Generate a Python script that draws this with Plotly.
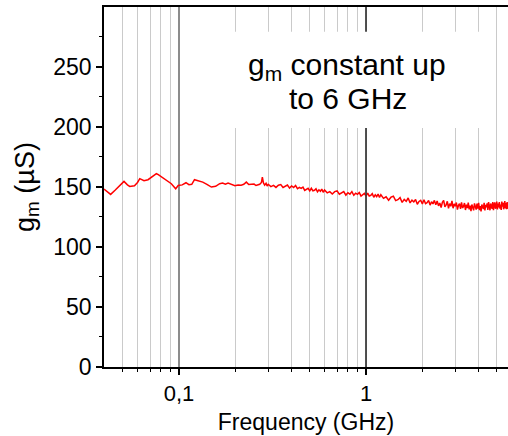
import plotly.graph_objects as go

# ---- data ----
freq_low = [0.0397, 0.0415, 0.0431, 0.0455, 0.048, 0.0508, 0.0530, 0.0545, 0.0578, 0.0600,
            0.0617, 0.0650, 0.0683, 0.0720, 0.0757, 0.0775, 0.0820, 0.0874, 0.0910, 0.0960,
            0.0990, 0.104, 0.109, 0.113, 0.117, 0.121, 0.127, 0.134, 0.141, 0.149,
            0.157, 0.165, 0.171, 0.177, 0.183, 0.191, 0.199, 0.207, 0.215, 0.222,
            0.229, 0.236, 0.244, 0.252, 0.258, 0.264, 0.270, 0.276, 0.279, 0.283,
            0.287, 0.292, 0.296]
gm_low = [148.0, 146.0, 143.6, 147.0, 151.0, 154.4, 151.5, 150.2, 150.8, 153.5,
          156.7, 155.0, 155.8, 158.5, 160.8, 160.0, 157.2, 153.8, 152.5, 148.3,
          151.0, 151.5, 153.3, 151.7, 152.0, 155.8, 155.0, 153.8, 152.0, 149.7,
          150.3, 152.5, 153.0, 152.0, 153.0, 151.8, 150.8, 151.5, 151.3, 152.0,
          153.8, 151.8, 151.7, 152.2, 151.0, 151.3, 152.0, 153.5, 158.0, 153.0,
          151.3, 152.8, 150.6]

freq_high = [0.30, 0.31, 0.32, 0.33, 0.34, 0.35, 0.36, 0.37, 0.38, 0.39,
             0.40, 0.41, 0.42, 0.43, 0.44, 0.45, 0.46, 0.47, 0.48, 0.49,
             0.50, 0.51, 0.52, 0.53, 0.54, 0.55, 0.56, 0.57, 0.58, 0.59,
             0.60, 0.62, 0.64, 0.66, 0.68, 0.70, 0.72, 0.74, 0.76, 0.78,
             0.80, 0.82, 0.84, 0.86, 0.88, 0.90, 0.92, 0.94, 0.96, 0.98,
             1.00, 1.02, 1.04, 1.06, 1.08, 1.10, 1.12, 1.14, 1.16, 1.18,
             1.20, 1.24, 1.28, 1.32, 1.36, 1.40, 1.44, 1.48, 1.52, 1.56,
             1.60, 1.64, 1.68, 1.72, 1.76, 1.80, 1.84, 1.88, 1.92, 1.96,
             2.00, 2.04, 2.08, 2.12, 2.16, 2.20, 2.24, 2.28, 2.32, 2.36,
             2.40, 2.44, 2.48, 2.52, 2.56, 2.60, 2.64, 2.68, 2.72, 2.76,
             2.80, 2.84, 2.88, 2.92, 2.96, 3.00, 3.04, 3.08, 3.12, 3.16,
             3.20, 3.24, 3.28, 3.32, 3.36, 3.40, 3.44, 3.48, 3.52, 3.56,
             3.60, 3.64, 3.68, 3.72, 3.76, 3.80, 3.84, 3.88, 3.92, 3.96,
             4.00, 4.04, 4.08, 4.12, 4.16, 4.20, 4.24, 4.28, 4.32, 4.36,
             4.40, 4.44, 4.48, 4.52, 4.56, 4.60, 4.64, 4.68, 4.72, 4.76,
             4.80, 4.84, 4.88, 4.92, 4.96, 5.00, 5.04, 5.08, 5.12, 5.16,
             5.20, 5.24, 5.28, 5.32, 5.36, 5.40, 5.44, 5.48, 5.52, 5.56,
             5.60, 5.64, 5.68, 5.72, 5.76, 5.80, 5.84, 5.88, 5.92, 5.96]
gm_high = [152.0, 150.1, 151.1, 149.4, 151.2, 151.8, 149.4, 150.1, 151.4, 148.8,
           150.6, 149.4, 151.0, 148.3, 149.5, 148.6, 149.6, 146.9, 148.2, 148.7,
           146.5, 148.7, 146.6, 147.0, 148.2, 145.7, 147.4, 146.2, 148.0, 145.4,
           147.2, 144.9, 145.9, 143.9, 145.9, 146.5, 143.8, 144.6, 146.0, 143.0,
           145.0, 143.8, 145.9, 142.9, 144.6, 143.6, 145.1, 142.2, 143.8, 144.5,
           142.2, 144.7, 142.3, 142.8, 144.2, 141.2, 143.3, 141.8, 143.9, 141.0,
           143.3, 140.3, 141.6, 138.8, 141.3, 142.1, 138.4, 139.2, 140.9, 136.9,
           139.4, 137.8, 140.6, 136.5, 138.8, 137.4, 139.4, 135.4, 137.7, 138.7,
           135.7, 139.2, 136.0, 136.8, 138.6, 134.7, 137.5, 135.7, 138.6, 134.9,
           138.1, 134.1, 136.4, 132.7, 137.0, 138.7, 133.2, 134.9, 137.8, 132.0,
           135.9, 133.7, 138.2, 132.1, 135.7, 133.7, 136.8, 131.0, 134.5, 136.0,
           131.6, 136.9, 132.3, 133.5, 136.4, 130.6, 135.0, 132.2, 136.7, 131.1,
           134.3, 129.6, 135.2, 133.4, 130.3, 136.1, 132.1, 130.9, 135.9, 131.7,
           136.6, 130.5, 133.9, 129.5, 135.2, 133.4, 131.5, 136.6, 130.3, 134.8,
           132.8, 136.1, 130.7, 137.2, 132.2, 130.4, 136.0, 134.2, 131.6, 137.2,
           130.4, 135.2, 136.9, 131.7, 133.4, 137.7, 131.1, 136.0, 132.7, 137.3,
           131.7, 135.1, 130.7, 137.7, 133.4, 136.5, 131.2, 135.4, 138.0, 132.0,
           136.4, 131.2, 137.2, 134.0, 131.6, 137.9, 132.7, 137.0, 131.1, 135.7]

frequency = freq_low + freq_high
gm = gm_low + gm_high

x_major = [0.1, 1]
x_major_text = ["0,1", "1"]
x_minor = [0.05, 0.06, 0.07, 0.08, 0.09, 0.2, 0.3, 0.4, 0.5, 0.6, 0.7, 0.8, 0.9, 2, 3, 4, 5]
y_major = [0, 50, 100, 150, 200, 250]
y_minor = [25, 75, 125, 175, 225, 275]
x_range_log = [-1.401, 0.759]
y_range = [0, 299.5]

FONT = "Liberation Sans, Arial, sans-serif"

fig = go.Figure()
fig.add_trace(go.Scatter(x=frequency, y=gm, mode="lines",
                         line=dict(color="#ff0000", width=1.5), showlegend=False))

fig.update_layout(
    width=508, height=436,
    margin=dict(l=104, r=0, t=7, b=69),
    paper_bgcolor="white", plot_bgcolor="white",
    font=dict(family=FONT, size=22, color="black"),
    xaxis=dict(
        type="log", range=x_range_log,
        tickmode="array", tickvals=x_major, ticktext=x_major_text,
        ticks="outside", ticklen=6, tickwidth=1.5, tickcolor="black",
        showline=True, linecolor="black", linewidth=1.5, mirror=True,
        showgrid=True, gridcolor="#8c8c8c", gridwidth=2, zeroline=False,
        tickfont=dict(size=22),
        minor=dict(tickmode="array", tickvals=x_minor, ticks="outside", ticklen=3,
                   tickwidth=1, tickcolor="black", showgrid=True,
                   gridcolor="#cacaca", gridwidth=1),
        title=dict(text="Frequency (GHz)", font=dict(size=23), standoff=9),
    ),
    yaxis=dict(
        range=y_range,
        tickmode="array", tickvals=y_major,
        ticks="outside", ticklen=6, tickwidth=1.5, tickcolor="black",
        showline=True, linecolor="black", linewidth=1.5,
        showgrid=False, zeroline=False,
        tickfont=dict(size=23),
        minor=dict(tickmode="array", tickvals=y_minor, ticks="outside", ticklen=3,
                   tickwidth=1, tickcolor="black", showgrid=False),
        title=dict(text="g<sub>m</sub> (µS)", font=dict(size=27), standoff=11),
    ),
)

# darker major grid line at 1 GHz
fig.add_shape(type="line", xref="x", yref="paper", x0=1, x1=1, y0=0, y1=1,
              line=dict(color="#3a3a3a", width=1.5), layer="above")

# white label box
fig.add_shape(type="rect", xref="paper", yref="paper", x0=0.25, x1=0.955, y0=0.664, y1=0.931,
              fillcolor="white", line=dict(width=0), layer="above")
fig.add_annotation(xref="paper", yref="paper", x=0.601, y=0.835, xanchor="center", yanchor="middle",
                   text="g<sub>m</sub> constant up", showarrow=False, font=dict(size=30, family=FONT))
fig.add_annotation(xref="paper", yref="paper", x=0.604, y=0.745, xanchor="center", yanchor="middle",
                   text="to 6 GHz", showarrow=False, font=dict(size=30, family=FONT))

fig.write_html("out.html")
